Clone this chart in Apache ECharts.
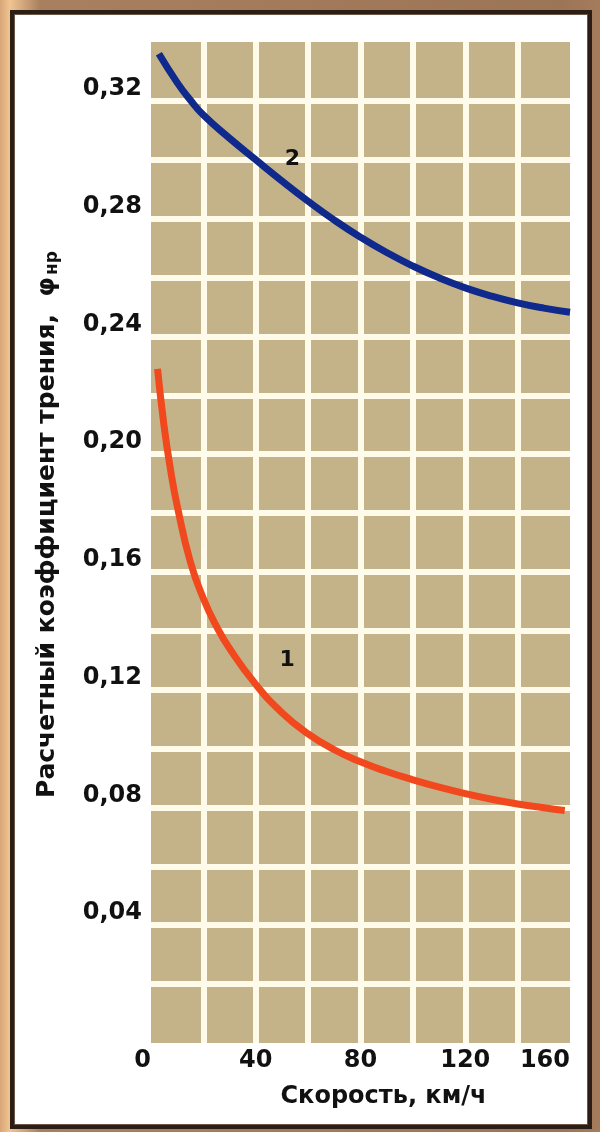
<!DOCTYPE html>
<html>
<head>
<meta charset="utf-8">
<script src="https://cdn.jsdelivr.net/npm/echarts@6/dist/echarts.min.js"></script>
<style>
  html, body { margin: 0; padding: 0; }
  body {
    width: 600px; height: 1132px; position: relative; overflow: hidden;
    background: linear-gradient(to right, #d9a677 0px, #f0c592 10px, #a9805f 40px, #9c7556 560px, #a57c5c 600px);
  }
  #frame {
    position: absolute; left: 10px; top: 10px; width: 574px; height: 1111px;
    background: #ffffff; border: 4px solid #2b1e16;
    box-shadow: inset 0 0 0 1px #6b5546;
  }
  #chart { position: absolute; left: 0; top: 0; width: 600px; height: 1132px; }
</style>
</head>
<body>
<div id="frame"></div>
<div id="chart"></div>
<script>
// Speed, km/h  ->  design friction coefficient
const curve1Speed = [2.5, 5, 7.5, 10, 15, 20, 25, 30, 40, 50, 60, 70, 80, 90, 100, 110, 120, 130, 140, 150, 158];
const curve1Coef  = [0.229, 0.2095, 0.1945, 0.1825, 0.1635, 0.151, 0.1415, 0.134, 0.1218, 0.1122, 0.105, 0.0996, 0.0955, 0.0922, 0.0894, 0.0869, 0.0847, 0.0828, 0.0812, 0.0799, 0.079];
const curve2Speed = [3, 10, 15, 20, 30, 40, 50, 60, 70, 80, 90, 100, 110, 120, 130, 140, 150, 160];
const curve2Coef  = [0.336, 0.3262, 0.3203, 0.3152, 0.3073, 0.300, 0.2928, 0.2859, 0.2795, 0.2737, 0.2685, 0.2639, 0.2599, 0.2565, 0.2537, 0.2514, 0.2496, 0.2482];
const xTickLabels = ['0', '40', '80', '120', '160'];
const yTickLabels = ['0,04', '0,08', '0,12', '0,16', '0,20', '0,24', '0,28', '0,32'];
const curveNames = ['1', '2'];
const curveLabelPos = [[52, 0.130], [54, 0.300]];

const toPairs = (xs, ys) => xs.map((x, i) => [x, ys[i]]);
const labelFont = 'DejaVu Sans';

const chart = echarts.init(document.getElementById('chart'), null, { renderer: 'canvas' });
chart.setOption({
  backgroundColor: 'transparent',
  animation: false,
  grid: {
    left: 151, top: 42, width: 419, height: 1001,
    show: true, backgroundColor: '#c4b389', borderWidth: 0
  },
  xAxis: {
    type: 'value', min: 0, max: 160, interval: 20,
    axisLine: { show: false }, axisTick: { show: false },
    splitLine: { show: true, showMinLine: false, showMaxLine: false,
                 lineStyle: { color: '#fffbea', width: 6 } },
    axisLabel: {
      margin: 6,
      color: '#111', fontFamily: labelFont, fontWeight: 'bold', fontSize: 24,
      alignMinLabel: 'right', alignMaxLabel: 'right',
      formatter: v => { const s = String(Math.round(v)); return xTickLabels.includes(s) ? s : ''; }
    },
    name: 'Скорость, км/ч', nameLocation: 'middle', nameGap: 42,
    nameTextStyle: { color: '#111', fontFamily: labelFont, fontWeight: 'bold', fontSize: 24,
                     padding: [0, 0, 0, 46] }
  },
  yAxis: {
    type: 'value', min: 0, max: 0.34, interval: 0.02,
    axisLine: { show: false }, axisTick: { show: false },
    splitLine: { show: true, showMinLine: false, showMaxLine: false,
                 lineStyle: { color: '#fffbea', width: 6 } },
    axisLabel: {
      margin: 9, verticalAlign: 'bottom',
      color: '#111', fontFamily: labelFont, fontWeight: 'bold', fontSize: 24,
      formatter: v => { const s = v.toFixed(2).replace('.', ','); return yTickLabels.includes(s) ? s : ''; }
    },
    name: '{t|Расчетный коэффициент трения,  φ}{s|нр}', nameLocation: 'middle', nameGap: 90,
    nameTextStyle: {
      color: '#111', fontFamily: labelFont, fontWeight: 'bold', fontSize: 25,
      padding: [0, 0, 0, 36],
      rich: {
        t: { color: '#111', fontFamily: labelFont, fontWeight: 'bold', fontSize: 25 },
        s: { color: '#111', fontFamily: labelFont, fontWeight: 'bold', fontSize: 17, padding: [10, 0, 0, 2] }
      }
    }
  },
  series: [
    {
      name: curveNames[0], type: 'line', smooth: 0.5, symbol: 'none',
      data: toPairs(curve1Speed, curve1Coef),
      lineStyle: { color: '#f2481d', width: 7, cap: 'butt' },
      markPoint: {
        symbol: 'circle', symbolSize: 0,
        label: { show: true, formatter: curveNames[0], color: '#111', fontFamily: labelFont, fontWeight: 'bold', fontSize: 22 },
        data: [{ coord: curveLabelPos[0] }]
      }
    },
    {
      name: curveNames[1], type: 'line', smooth: 0.5, symbol: 'none',
      data: toPairs(curve2Speed, curve2Coef),
      lineStyle: { color: '#10298c', width: 7, cap: 'butt' },
      markPoint: {
        symbol: 'circle', symbolSize: 0,
        label: { show: true, formatter: curveNames[1], color: '#111', fontFamily: labelFont, fontWeight: 'bold', fontSize: 22 },
        data: [{ coord: curveLabelPos[1] }]
      }
    }
  ]
});
</script>
</body>
</html>
